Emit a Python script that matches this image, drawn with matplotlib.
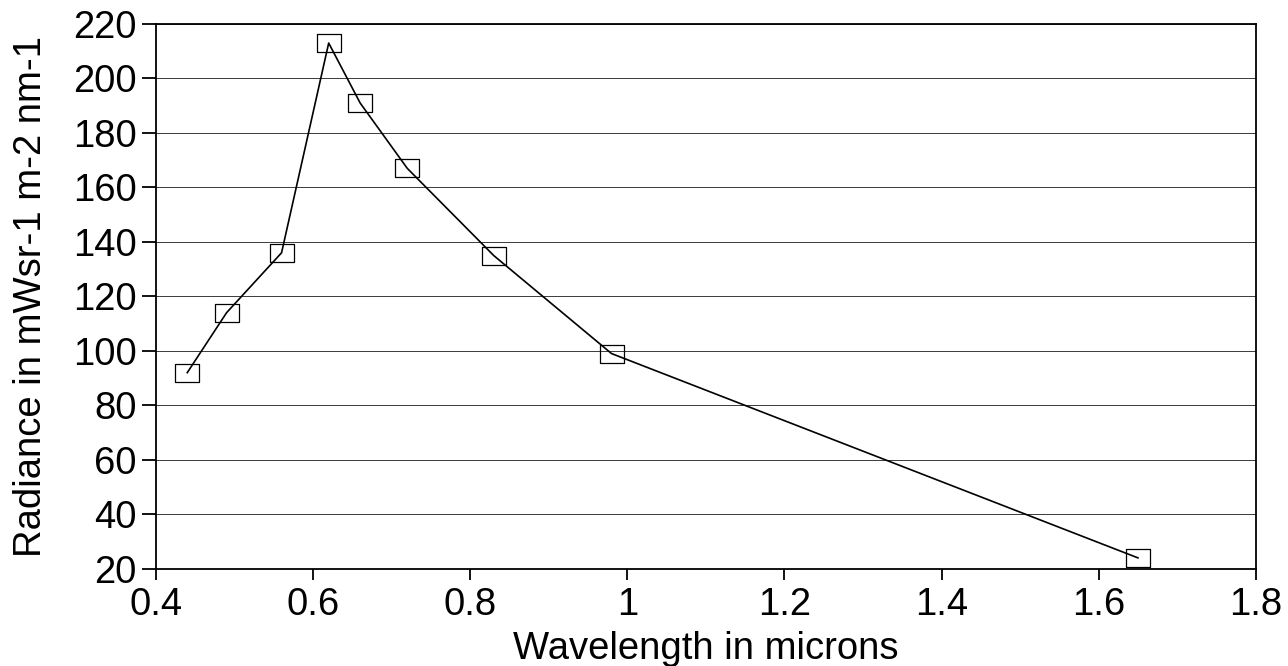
import matplotlib
matplotlib.use("Agg")
import matplotlib.pyplot as plt

# radiance spectrum readings
wavelength = [0.44, 0.49, 0.56, 0.62, 0.66, 0.72, 0.83, 0.98, 1.65]
radiance = [92, 114, 136, 213, 191, 167, 135, 99, 24]

xticks = [0.4, 0.6, 0.8, 1.0, 1.2, 1.4, 1.6, 1.8]
xticklabels = ["0.4", "0.6", "0.8", "1", "1.2", "1.4", "1.6", "1.8"]
yticks = list(range(20, 221, 20))

plt.rcParams["font.family"] = ["Liberation Sans", "DejaVu Sans"]

fig = plt.figure(figsize=(12.88, 6.66), dpi=100)
ax = fig.add_axes([0.121, 0.146, 0.854, 0.818])

# open rectangles, a bit wider than tall
box = [(-1.35, -1), (1.35, -1), (1.35, 1), (-1.35, 1), (-1.35, -1)]
ax.plot(wavelength, radiance, color="black", lw=1.2,
        marker=box, markersize=17, markerfacecolor="none",
        markeredgecolor="black", markeredgewidth=0.9)

ax.set_xlim(0.4, 1.8)
ax.set_ylim(20, 220)
ax.set_xticks(xticks)
ax.set_xticklabels(xticklabels)
ax.set_yticks(yticks)

ax.grid(axis="y", color="#3a3a3a", lw=0.7)
ax.set_axisbelow(True)

for s in ax.spines.values():
    s.set_linewidth(1.3)
    s.set_color("black")

ax.tick_params(axis="both", direction="out", labelsize=27.5, width=1.3)
ax.tick_params(axis="y", length=10, pad=4)
ax.tick_params(axis="x", length=8, pad=5)

ax.set_xlabel("Wavelength in microns", fontsize=27.5, labelpad=6)
ax.set_ylabel("Radiance in mWsr-1 m-2 nm-1", fontsize=27.5, labelpad=17)

fig.savefig("out.png", dpi=100)
